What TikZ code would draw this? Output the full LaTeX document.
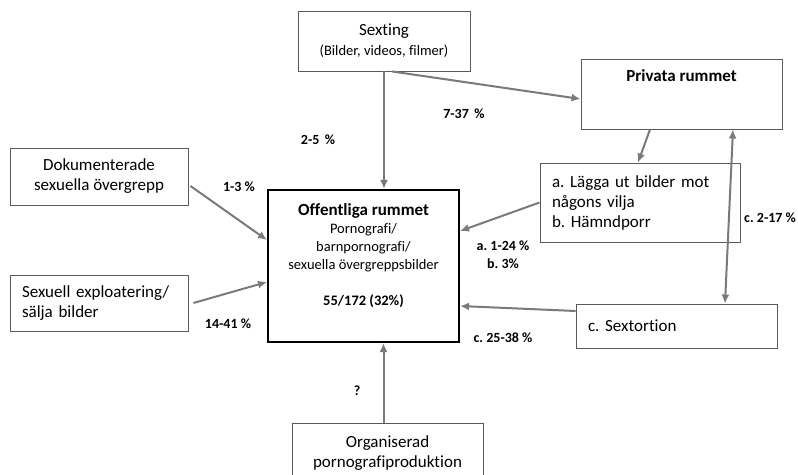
\documentclass[tikz,border=0pt]{standalone}
\usepackage{fontspec}
\setmainfont{Carlito}[Ligatures=NoCommon]
\usetikzlibrary{arrows.meta, positioning}
\frenchspacing
\definecolor{boxgray}{HTML}{5A5A5A}
\definecolor{arrowgray}{HTML}{7A7A7A}
\tikzstyle{box} = [rectangle, draw=boxgray, line width=0.9pt, inner sep=0pt, align=center, font=\fontsize{17}{20}\selectfont]
\tikzstyle{mainbox} = [rectangle, draw=black, line width=2.2pt, inner sep=0pt, align=center, font=\fontsize{14.5}{18}\selectfont]
\tikzstyle{arrow} = [line width=2pt, draw=arrowgray, ->, >={Latex[length=9pt,width=8pt]}]
\tikzstyle{pct} = [font=\bfseries\fontsize{14}{17}\selectfont, align=center]

\begin{document}
\begin{tikzpicture}[x=1pt, y=-1pt]
\clip (0,0) rectangle (798,474);

\node (sexting) [box, minimum width=172, minimum height=60] at (384,41) {Sexting\\{\fontsize{14.5}{17}\selectfont (Bilder, videos, filmer)}};
\node (privat) [box, minimum width=201, minimum height=70, label={[font=\bfseries\fontsize{17}{20}\selectfont, anchor=north, yshift=-7pt]north:Privata rummet}] at (681.5,94) {};
\node (hamnd) [box, minimum width=200, minimum height=79, text width=176, align=left] at (640,202.5) {a. Lägga ut bilder mot\\ någons vilja\\ b. Hämndporr};
\node (sextortion) [box, minimum width=201, minimum height=44, text width=177, align=left] at (676.5,326) {c. Sextortion};
\node (offentlig) [mainbox, minimum width=191, minimum height=152] at (363.5,266) {{\bfseries\fontsize{17}{20}\selectfont Offentliga rummet}\\ Pornografi/\\ barnpornografi/\\ sexuella övergreppsbilder\\[18pt] \textbf{55/172 (32\%)}\\[5pt] \mbox{}};
\node (dok) [box, minimum width=178, minimum height=57] at (99,176.5) {Dokumenterade\\ sexuella övergrepp};
\node (expl) [box, minimum width=178, minimum height=56, text width=154, align=left] at (99,303) {Sexuell exploatering/\\ sälja bilder};
\node (org) [box, minimum width=191, minimum height=60] at (387.5,453) {Organiserad\\ pornografiproduktion};

% percentages
\node (p25) [pct] at (318,140) {2-5 \,\%};
\node (p737) [pct] at (464,114) {7-37 \,\%};
\node (p13) [pct] at (239,187) {1-3 \%};
\node (p1441) [pct] at (228,324) {14-41 \%};
\node (pab) [pct, font=\bfseries\fontsize{14}{18}\selectfont] at (503,255) {a. 1-24 \%\\ b. 3\%};
\node (pc2538) [pct] at (503,338) {c. 25-38 \%};
\node (pc217) [pct] at (770,218) {c. 2-17 \%};
\node (pq) [pct] at (357,391) {?};

\draw [arrow] (sexting.south) -- (sexting.south |- offentlig.north);
\draw [arrow] ([xshift=8pt]sexting.south) -- ([yshift=-5pt]privat.west);
\draw [arrow] ([xshift=-31.5pt]privat.south) -- ([xshift=-2pt]hamnd.north);
\draw [arrow] (hamnd.west) -- ([yshift=35pt]offentlig.east);
\draw [arrow] ([yshift=15pt]sextortion.west) -- ([yshift=-40pt]offentlig.east);
\draw [arrow, <->] ([xshift=51.5pt]privat.south) -- ([xshift=48.5pt]sextortion.north);
\draw [arrow] ([xshift=2pt, yshift=-9.5pt]dok.east) -- ([yshift=26pt]offentlig.west);
\draw [arrow] ([xshift=5pt]expl.east) -- ([yshift=-16pt]offentlig.west);
\draw [arrow] ([xshift=-4pt]org.north) -- ([xshift=20pt]offentlig.south);

\end{tikzpicture}
\end{document}
